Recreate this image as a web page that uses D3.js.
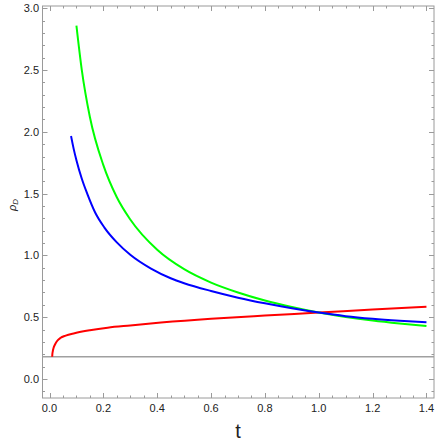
<!DOCTYPE html>
<html><head><meta charset="utf-8">
<script src="https://cdn.jsdelivr.net/npm/d3@7"></script>
<style>body{margin:0;background:#fff}svg{display:block}</style>
</head><body>
<svg id="c" width="436" height="441"></svg>
<script>
// Data
const greenT = [0.1, 0.12, 0.15, 0.2, 0.25, 0.3, 0.4, 0.5, 0.6, 0.7, 0.8, 0.9, 1.0, 1.1, 1.2, 1.3, 1.4];
const greenV = [2.86, 2.50, 2.12, 1.73, 1.47, 1.29, 1.045, 0.888, 0.78, 0.70, 0.635, 0.582, 0.537, 0.502, 0.473, 0.449, 0.428];
const blueT  = [0.08, 0.09, 0.1, 0.12, 0.14, 0.17, 0.204, 0.25, 0.3, 0.377, 0.45, 0.5, 0.6, 0.7, 0.8, 0.9, 1.0, 1.1, 1.2, 1.3, 1.4];
const blueV  = [1.966, 1.86, 1.77, 1.62, 1.50, 1.345, 1.225, 1.105, 1.005, 0.893, 0.815, 0.775, 0.712, 0.658, 0.612, 0.572, 0.537, 0.508, 0.487, 0.471, 0.458];
const redT   = [0.01, 0.0105, 0.012, 0.015, 0.02, 0.025, 0.031, 0.04, 0.06, 0.093, 0.15, 0.216, 0.3, 0.414, 0.6, 0.8, 1.0, 1.2, 1.4];
const redV   = [0.18, 0.198, 0.222, 0.25, 0.277, 0.297, 0.314, 0.331, 0.351, 0.37, 0.394, 0.415, 0.433, 0.456, 0.487, 0.513, 0.537, 0.562, 0.585];
const refLevel = 0.18;
const xTicks = [0.0, 0.2, 0.4, 0.6, 0.8, 1.0, 1.2, 1.4];
const yTicks = [0.0, 0.5, 1.0, 1.5, 2.0, 2.5, 3.0];

const svg = d3.select("#c");
const L = 42.5, R = 434, T = 6, B = 398;
const x = d3.scaleLinear().domain([-0.026, 1.428]).range([L, R]);
const y = d3.scaleLinear().domain([-0.154, 3.018]).range([B, T]);

const frameCol = "#9a9a9a";
const g = svg.append("g");

// minor/major ticks
const xMinor = d3.range(0, 1.4251, 0.05);
const yMinor = d3.range(-0.1, 3.0001, 0.1);
const isMajX = v => xTicks.some(t => Math.abs(t - v) < 1e-6);
const isMajY = v => yTicks.some(t => Math.abs(t - v) < 1e-6);
xMinor.forEach(v => {
  const len = isMajX(v) ? 5 : 2.5;
  const px = Math.round(x(v)) + 0.5;
  g.append("line").attr("x1", px).attr("x2", px).attr("y1", B).attr("y2", B - len).attr("stroke", frameCol);
  g.append("line").attr("x1", px).attr("x2", px).attr("y1", T).attr("y2", T + len).attr("stroke", frameCol);
});
yMinor.forEach(v => {
  const len = isMajY(v) ? 5 : 2.5;
  const py = Math.round(y(v)) + 0.5;
  g.append("line").attr("y1", py).attr("y2", py).attr("x1", L).attr("x2", L + len).attr("stroke", frameCol);
  g.append("line").attr("y1", py).attr("y2", py).attr("x1", R).attr("x2", R - len).attr("stroke", frameCol);
});

// frame
g.append("rect").attr("x", L).attr("y", T).attr("width", R - L).attr("height", B - T)
  .attr("fill", "none").attr("stroke", frameCol).attr("stroke-width", 1);

// tick labels
const font = "Liberation Sans, Arial, sans-serif";
xTicks.forEach(v => {
  svg.append("text").attr("x", x(v)).attr("y", 412).attr("text-anchor", "middle")
    .attr("font-family", font).attr("font-size", 11).attr("fill", "#222").text(d3.format(".1f")(v));
});
yTicks.forEach(v => {
  svg.append("text").attr("x", 39).attr("y", y(v) + 4).attr("text-anchor", "end")
    .attr("font-family", font).attr("font-size", 11).attr("fill", "#222").text(d3.format(".1f")(v));
});

// reference horizontal line
svg.append("line").attr("x1", L).attr("x2", R).attr("y1", y(refLevel)).attr("y2", y(refLevel))
  .attr("stroke", "#a0a0a0").attr("stroke-width", 1.6);

svg.append("clipPath").attr("id", "cp").append("rect")
  .attr("x", L).attr("y", T).attr("width", R - L).attr("height", B - T);

const line = d3.line().x(d => x(d[0])).y(d => y(d[1])).curve(d3.curveMonotoneX);
const series = [
  {t: redT, v: redV, c: "#ff0000"},
  {t: greenT, v: greenV, c: "#00ff00"},
  {t: blueT, v: blueV, c: "#0000ff"}
];
series.forEach(s => {
  svg.append("path").attr("d", line(s.t.map((t, i) => [t, s.v[i]])))
    .attr("fill", "none").attr("stroke", s.c).attr("stroke-width", 2).attr("clip-path", "url(#cp)");
});

// axis labels
svg.append("text").attr("x", 238).attr("y", 438).attr("text-anchor", "middle")
  .attr("font-family", font).attr("font-size", 20).attr("fill", "#222").text("t");
const yl = svg.append("text").attr("transform", "translate(16,205) rotate(-90)")
  .attr("text-anchor", "middle").attr("font-family", font).attr("font-size", 11).attr("fill", "#222");
yl.append("tspan").attr("font-style", "italic").text("ρ");
yl.append("tspan").attr("font-style", "italic").attr("font-size", 8).attr("dy", 2).text("D");
</script>
</body></html>
